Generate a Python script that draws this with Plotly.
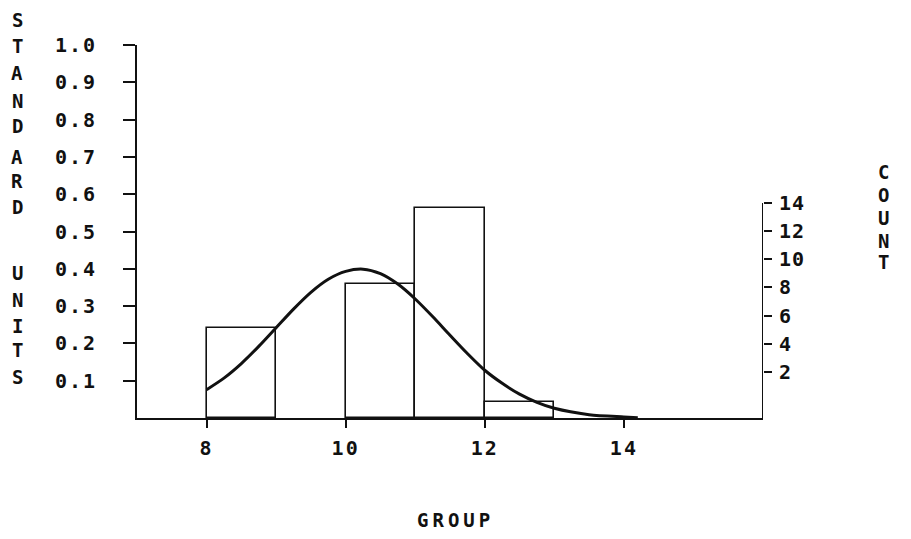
import plotly.graph_objects as go

# Histogram bins (GROUP units) and bar heights (standard units)
bin_left = [8.0, 10.0, 11.0, 12.0]
bin_right = [9.0, 11.0, 12.0, 13.0]
bar_height = [0.241, 0.360, 0.562, 0.042]

# Fitted density curve (standard units)
curve_x = [8.0, 8.25, 8.5, 8.75, 9.0, 9.25, 9.5, 9.75, 10.0, 10.25, 10.5,
           10.75, 11.0, 11.25, 11.5, 11.75, 12.0, 12.25, 12.5, 12.75, 13.0,
           13.5, 14.0, 14.2]
curve_y = [0.076, 0.107, 0.146, 0.192, 0.242, 0.292, 0.337, 0.372, 0.393,
           0.399, 0.387, 0.359, 0.319, 0.272, 0.222, 0.173, 0.128, 0.093,
           0.064, 0.042, 0.026, 0.009, 0.003, 0.001]

# Axis ticks
x_ticks = [8, 10, 12, 14]
y_ticks = [0.1, 0.2, 0.3, 0.4, 0.5, 0.6, 0.7, 0.8, 0.9, 1.0]
count_ticks = [2, 4, 6, 8, 10, 12, 14]

y_title = "STANDARD UNITS"
count_title = "COUNT"
x_title = "GROUP"

FONT = "DejaVu Sans Mono"
INK = "#111111"
TICK_SIZE = 20


def spaced(s, gap=2):
    return f'<span style="letter-spacing:{gap}px">{s}</span>'


W, H = 911, 539
L, R, T, B = 137, 148, 45, 121
plot_w, plot_h = W - L - R, H - T - B


def px_to_paper_x(px):
    return (px - L) / plot_w


def px_to_paper_y(py):
    return (H - B - py) / plot_h


fig = go.Figure()

fig.add_trace(go.Bar(
    x=[(a + b) / 2 for a, b in zip(bin_left, bin_right)],
    width=[b - a for a, b in zip(bin_left, bin_right)],
    y=bar_height,
    marker=dict(color="rgba(0,0,0,0)", line=dict(color=INK, width=1.6)),
    showlegend=False,
    hoverinfo="skip",
))

fig.add_trace(go.Scatter(
    x=curve_x, y=curve_y, mode="lines",
    line=dict(color=INK, width=3, shape="spline", smoothing=0.8),
    showlegend=False, hoverinfo="skip",
))

# invisible trace that activates the count axis
fig.add_trace(go.Scatter(
    x=[16], y=[0], yaxis="y2", mode="markers",
    marker=dict(opacity=0), showlegend=False, hoverinfo="skip",
))

count_range = [-1.27, 25.22]

fig.update_layout(
    width=W, height=H,
    margin=dict(l=L, r=R, t=T, b=B, pad=0),
    paper_bgcolor="white", plot_bgcolor="white",
    font=dict(family=FONT, size=TICK_SIZE, color=INK, weight="bold"),
    bargap=0,
    xaxis=dict(
        range=[7, 16], showgrid=False, zeroline=False,
        showline=True, linecolor=INK, linewidth=2, layer="above traces",
        tickmode="array", tickvals=x_ticks,
        ticktext=[spaced(str(v)) for v in x_ticks],
        ticks="outside", ticklen=8, tickwidth=2, tickcolor=INK,
        ticklabelstandoff=3,
    ),
    yaxis=dict(
        range=[0, 1.0], showgrid=False, zeroline=False,
        showline=True, linecolor=INK, linewidth=2, layer="above traces",
        tickmode="array", tickvals=y_ticks,
        ticktext=[spaced(f"{v:.1f}") for v in y_ticks],
        ticks="outside", ticklen=12, tickwidth=1.5, tickcolor=INK,
        ticklabelstandoff=22,
    ),
    yaxis2=dict(
        overlaying="y", side="right", anchor="x",
        range=count_range, showgrid=False, zeroline=False, showline=False,
        tickmode="array", tickvals=count_ticks,
        ticktext=[spaced(str(v), 1) for v in count_ticks],
        ticks="outside", ticklen=8, tickwidth=1.5, tickcolor=INK,
        ticklabelstandoff=3,
    ),
)

# count axis line runs from the baseline up to the top tick
fig.add_shape(type="line", xref="x", yref="y2",
              x0=16, x1=16, y0=count_range[0], y1=max(count_ticks),
              line=dict(color=INK, width=2))

# vertical stacked axis titles
left_letter_y = [20, 46, 73, 101, 126, 157, 181, 207, None,
                 273, 300, 326, 350, 377]
for ch, py in zip(y_title, left_letter_y):
    if ch == " " or py is None:
        continue
    fig.add_annotation(text=ch, xref="paper", yref="paper",
                       x=px_to_paper_x(17), y=px_to_paper_y(py),
                       xanchor="center", yanchor="middle", showarrow=False,
                       font=dict(family=FONT, size=19, color=INK))

right_letter_y = [172, 195, 218, 241, 262]
for ch, py in zip(count_title, right_letter_y):
    fig.add_annotation(text=ch, xref="paper", yref="paper",
                       x=px_to_paper_x(883), y=px_to_paper_y(py),
                       xanchor="center", yanchor="middle", showarrow=False,
                       font=dict(family=FONT, size=19, color=INK))

fig.add_annotation(text=spaced(x_title, 4), xref="paper", yref="paper",
                   x=px_to_paper_x(455), y=px_to_paper_y(520),
                   xanchor="center", yanchor="middle", showarrow=False,
                   font=dict(family=FONT, size=19, color=INK))

fig.write_html("out.html")
